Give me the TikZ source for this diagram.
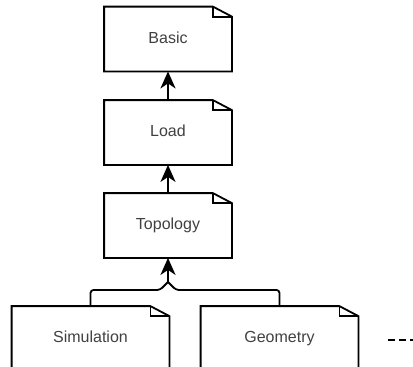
\documentclass[tikz,border=0pt]{standalone}
\usepackage{fontspec}
\setmainfont{Liberation Sans}
\usetikzlibrary{arrows.meta}
\tikzset{
  pkg/.style={minimum width=126pt, minimum height=63pt, inner sep=0pt,
    text height=11.5pt, text depth=3.5pt,
    text=black!75, font=\fontsize{16}{19}\selectfont},
  widepkg/.style={pkg, minimum width=156pt},
  uses/.style={-{Stealth[length=17pt,width=15pt,inset=5pt]}},
}
\begin{document}
\begin{tikzpicture}[x=1pt,y=-1pt,line width=1.8pt]
  \clip (0,0) rectangle (413,367);
  \draw
    (168,39) node[pkg] (basic){Basic}
    (168,132.5) node[pkg] (load){Load}
    (168,225.5) node[pkg] (topology){Topology}
    (90.5,338.5) node[widepkg] (simulation){Simulation}
    (279.5,338.5) node[widepkg] (geometry){Geometry};
  % package outlines with the folded corner
  \foreach \n in {basic,load,topology,simulation,geometry} {
    \draw (\n.south west) |- ([xshift=-19pt]\n.north east)
      -- ([yshift=-10pt]\n.north east) -- (\n.south east) -- cycle;
    \draw ([xshift=-19pt]\n.north east) |- ([yshift=-10pt]\n.north east);
  }
  \coordinate (join) at (168,282);
  \coordinate (more) at (388,340);
  \begin{scope}[line join=round]
    \draw[uses] (load) -- (basic);
    \draw[uses] (topology) -- (load);
    \draw[uses] (join) -- (topology);
    \draw[rounded corners=3pt] (simulation.north) |- ([xshift=-8pt,yshift=-8pt]join) -- (join);
    \draw[rounded corners=3pt] (geometry.north) |- ([xshift=8pt,yshift=-8pt]join) -- (join);
    \draw[dashed, dash pattern=on 7pt off 4pt] (more) -- ++(40,0);
  \end{scope}
\end{tikzpicture}
\end{document}
